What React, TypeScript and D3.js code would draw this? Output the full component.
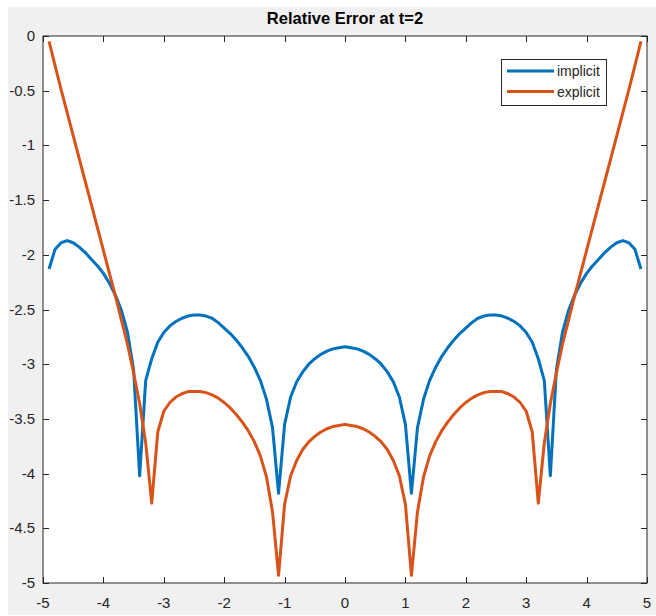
import React, { useEffect, useRef } from "react";
import * as d3 from "d3";

const xs = [
  -4.9, -4.8, -4.7, -4.6, -4.5, -4.4, -4.3, -4.2, -4.1, -4.0,
  -3.9, -3.8, -3.7, -3.6, -3.5, -3.4, -3.3, -3.2, -3.1, -3.0,
  -2.9, -2.8, -2.7, -2.6, -2.5, -2.4, -2.3, -2.2, -2.1, -2.0,
  -1.9, -1.8, -1.7, -1.6, -1.5, -1.4, -1.3, -1.2, -1.1, -1.0,
  -0.9, -0.8, -0.7, -0.6, -0.5, -0.4, -0.3, -0.2, -0.1, 0,
  0.1, 0.2, 0.3, 0.4, 0.5, 0.6, 0.7, 0.8, 0.9, 1.0,
  1.1, 1.2, 1.3, 1.4, 1.5, 1.6, 1.7, 1.8, 1.9, 2.0,
  2.1, 2.2, 2.3, 2.4, 2.5, 2.6, 2.7, 2.8, 2.9, 3.0,
  3.1, 3.2, 3.3, 3.4, 3.5, 3.6, 3.7, 3.8, 3.9, 4.0,
  4.1, 4.2, 4.3, 4.4, 4.5, 4.6, 4.7, 4.8, 4.9,
];

const implicitErr = [
  -2.13, -1.95, -1.89, -1.87, -1.89, -1.93, -1.98, -2.04, -2.10, -2.17,
  -2.26, -2.37, -2.51, -2.71, -3.05, -4.02, -3.15, -2.95, -2.80, -2.71,
  -2.65, -2.61, -2.58, -2.56, -2.55, -2.55, -2.56, -2.58, -2.62, -2.67,
  -2.72, -2.78, -2.85, -2.93, -3.03, -3.15, -3.32, -3.58, -4.18, -3.55,
  -3.30, -3.16, -3.07, -3.00, -2.95, -2.91, -2.88, -2.86, -2.85, -2.84,
  -2.85, -2.86, -2.88, -2.91, -2.95, -3.00, -3.07, -3.16, -3.30, -3.55,
  -4.18, -3.58, -3.32, -3.15, -3.03, -2.93, -2.85, -2.78, -2.72, -2.67,
  -2.62, -2.58, -2.56, -2.55, -2.55, -2.56, -2.58, -2.61, -2.65, -2.71,
  -2.80, -2.95, -3.15, -4.02, -3.05, -2.71, -2.51, -2.37, -2.26, -2.17,
  -2.10, -2.04, -1.98, -1.93, -1.89, -1.87, -1.89, -1.95, -2.13,
];

const explicitErr = [
  -0.05, -0.27, -0.49, -0.70, -0.91, -1.12, -1.33, -1.54, -1.75, -1.96,
  -2.17, -2.38, -2.60, -2.82, -3.08, -3.36, -3.72, -4.27, -3.62, -3.43,
  -3.35, -3.30, -3.27, -3.25, -3.25, -3.25, -3.26, -3.28, -3.31, -3.35,
  -3.40, -3.46, -3.53, -3.61, -3.71, -3.84, -4.03, -4.35, -4.93, -4.28,
  -4.02, -3.88, -3.78, -3.71, -3.66, -3.62, -3.59, -3.57, -3.56, -3.55,
  -3.56, -3.57, -3.59, -3.62, -3.66, -3.71, -3.78, -3.88, -4.02, -4.28,
  -4.93, -4.35, -4.03, -3.84, -3.71, -3.61, -3.53, -3.46, -3.40, -3.35,
  -3.31, -3.28, -3.26, -3.25, -3.25, -3.25, -3.27, -3.30, -3.35, -3.43,
  -3.62, -4.27, -3.72, -3.36, -3.08, -2.82, -2.60, -2.38, -2.17, -1.96,
  -1.75, -1.54, -1.33, -1.12, -0.91, -0.70, -0.49, -0.27, -0.05,
];

const xTicks = [-5, -4, -3, -2, -1, 0, 1, 2, 3, 4, 5];
const yTicks = [0, -0.5, -1, -1.5, -2, -2.5, -3, -3.5, -4, -4.5, -5];
const seriesNames = ["implicit", "explicit"];
const seriesColors = ["#0072bd", "#d95319"];

const App = () => {
  const ref = useRef<SVGSVGElement>(null);

  useEffect(() => {
    const svg = d3.select(ref.current);
    svg.selectAll("*").remove();

    const width = 656, height = 616;
    const left = 43, right = 647, top = 36, bottom = 583;
    const font = "'Liberation Sans', Arial, sans-serif";
    const axisColor = "#262626";

    svg.append("rect").attr("width", width).attr("height", height).attr("fill", "#fff");
    svg.append("rect").attr("x", 8).attr("y", 7).attr("width", width - 8).attr("height", 608).attr("fill", "#f0f0f0");
    svg.append("rect").attr("x", left).attr("y", top).attr("width", right - left).attr("height", bottom - top).attr("fill", "#fff");

    const x = d3.scaleLinear().domain([-5, 5]).range([left, right]);
    const y = d3.scaleLinear().domain([-5, 0]).range([bottom, top]);

    const line = d3.line<number>()
      .x((d, i) => x(xs[i]))
      .y((d) => y(d));

    [implicitErr, explicitErr].forEach((vals, k) => {
      svg.append("path")
        .datum(vals)
        .attr("d", line)
        .attr("fill", "none")
        .attr("stroke", seriesColors[k])
        .attr("stroke-width", 3)
        .attr("stroke-linejoin", "round");
    });

    // box + inward ticks on all sides
    const g = svg.append("g").attr("stroke", axisColor).attr("stroke-width", 1).attr("fill", "none");
    g.append("rect").attr("x", left).attr("y", top).attr("width", right - left).attr("height", bottom - top);
    xTicks.forEach((t) => {
      const px = Math.round(x(t)) + 0.5;
      g.append("line").attr("x1", px).attr("x2", px).attr("y1", bottom).attr("y2", bottom - 6);
      g.append("line").attr("x1", px).attr("x2", px).attr("y1", top).attr("y2", top + 6);
    });
    yTicks.forEach((t) => {
      const py = Math.round(y(t)) + 0.5;
      g.append("line").attr("x1", left).attr("x2", left + 6).attr("y1", py).attr("y2", py);
      g.append("line").attr("x1", right).attr("x2", right - 6).attr("y1", py).attr("y2", py);
    });

    svg.selectAll(".xt")
      .data(xTicks)
      .enter()
      .append("text")
      .attr("x", (d) => x(d))
      .attr("y", bottom + 25)
      .attr("text-anchor", "middle")
      .style("font-family", font)
      .style("font-size", "15px")
      .style("fill", axisColor)
      .text((d) => String(d));

    svg.selectAll(".yt")
      .data(yTicks)
      .enter()
      .append("text")
      .attr("x", left - 8)
      .attr("y", (d) => y(d) + 5)
      .attr("text-anchor", "end")
      .style("font-family", font)
      .style("font-size", "15px")
      .style("fill", axisColor)
      .text((d) => String(d));

    svg.append("text")
      .attr("x", (left + right) / 2)
      .attr("y", 24)
      .attr("text-anchor", "middle")
      .style("font-family", font)
      .style("font-size", "16.5px")
      .style("font-weight", "bold")
      .style("fill", "#000")
      .text("Relative Error at t=2");

    // legend
    const lg = svg.append("g");
    lg.append("rect")
      .attr("x", 501.5).attr("y", 59.5).attr("width", 105).attr("height", 46)
      .attr("fill", "#fff").attr("stroke", axisColor).attr("stroke-width", 1);
    seriesNames.forEach((name, k) => {
      const ly = 71 + k * 20.5;
      lg.append("line")
        .attr("x1", 507).attr("x2", 554).attr("y1", ly).attr("y2", ly)
        .attr("stroke", seriesColors[k]).attr("stroke-width", 3);
      lg.append("text")
        .attr("x", 557).attr("y", ly + 5)
        .style("font-family", font)
        .style("font-size", "14px")
        .style("fill", axisColor)
        .text(name);
    });
  }, []);

  return (
    <svg
      ref={ref}
      width={656}
      height={616}
      style={{ position: "absolute", left: 0, top: 0, display: "block" }}
    />
  );
};

export default App;
